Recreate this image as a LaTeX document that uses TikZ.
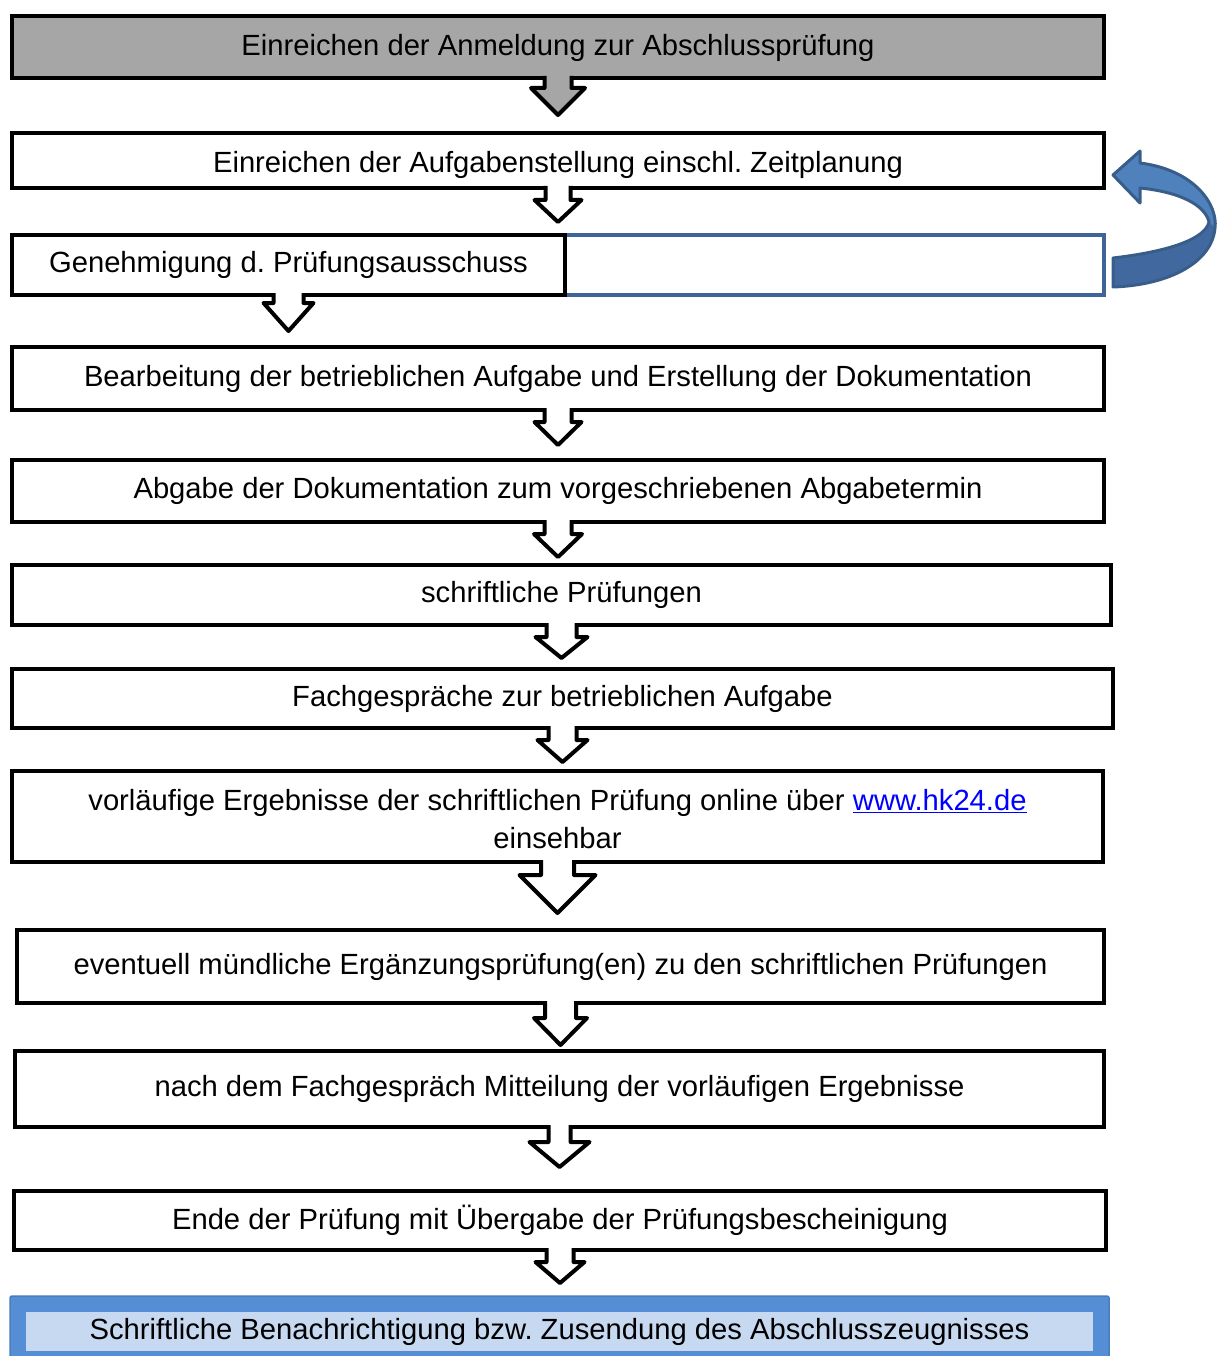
\documentclass[tikz,border=0pt]{standalone}
\usepackage{fontspec}
\setmainfont{Liberation Sans}
\usetikzlibrary{calc}
\definecolor{greybox}{HTML}{A6A6A6}
\definecolor{bluelink}{HTML}{0000FF}
\definecolor{blueline}{HTML}{3F6499}
\definecolor{bluefill}{HTML}{4F81BD}
\definecolor{bluedark}{HTML}{41699F}
\definecolor{blueedge}{HTML}{385D8A}
\definecolor{bandblue}{HTML}{558ED5}
\definecolor{bandedge}{HTML}{4A7EBB}
\definecolor{bandlight}{HTML}{C6D9F1}

\tikzset{
  stage/.style={draw, line width=4pt, fill=white, inner sep=0pt, outer sep=0pt,
    font=\fontsize{29.2}{38}\selectfont\frenchspacing},
  blockarrow/.style={draw, line width=4pt, line join=round},
}

% #2 node, #3 length, #4 shaft length, #5 head half width, #6 shaft half width
\newcommand{\flowarrow}[6][white]{%
  \draw[blockarrow, fill=#1] ($(#2.south)+(-#6,-2)$) -- ($(#2.south)+(-#6,#4)$)
    -- ($(#2.south)+(-#5,#4)$) -- ($(#2.south)+(0,#3)$) -- ($(#2.south)+(#5,#4)$)
    -- ($(#2.south)+(#6,#4)$) -- ($(#2.south)+(#6,-2)$);}
% lower the text inside a box without changing its size
\newcommand{\lowered}[2]{\raisebox{-#1}[\height][\depth]{#2}}

\begin{document}
\begin{tikzpicture}[x=1pt, y=-1pt]
	\useasboundingbox (0,0) rectangle (1219,1356);

	\node[stage, fill=greybox, minimum width=1092pt, minimum height=62pt] (b1) at (558,47) {\lowered{1pt}{Einreichen der Anmeldung zur Abschlussprüfung}};
	\node[stage, minimum width=1092pt, minimum height=55pt] (b2) at (558,160.5) {\lowered{4pt}{Einreichen der Aufgabenstellung einschl. Zeitplanung}};
	\node[stage, draw=blueline, line width=3.5pt, minimum width=539pt, minimum height=60pt] (b3b) at (834.5,265) {};
	\node[stage, minimum width=553pt, minimum height=60pt] (b3a) at (288.5,265) {Genehmigung d. Prüfungsausschuss};
	\node[stage, minimum width=1092pt, minimum height=63pt] (b4) at (558,378.5) {Bearbeitung der betrieblichen Aufgabe und Erstellung der Dokumentation};
	\node[stage, minimum width=1092pt, minimum height=62pt] (b5) at (558,491) {Abgabe der Dokumentation zum vorgeschriebenen Abgabetermin};
	\node[stage, minimum width=1099pt, minimum height=60pt] (b6) at (561.5,595) {schriftliche Prüfungen};
	\node[stage, minimum width=1101pt, minimum height=59pt] (b7) at (562.5,698.5) {Fachgespräche zur betrieblichen Aufgabe};
	\node[stage, minimum width=1091pt, minimum height=91pt] (b8) at (557.5,816.5) {\lowered{5pt}{\begin{tabular}{@{}c@{}}vorläufige Ergebnisse der schriftlichen Prüfung online über \textcolor{bluelink}{\underline{www.hk24.de}}\\einsehbar\end{tabular}}};
	\node[stage, minimum width=1087pt, minimum height=73pt] (b9) at (560.5,966.5) {eventuell mündliche Ergänzungsprüfung(en) zu den schriftlichen Prüfungen};
	\node[stage, minimum width=1089pt, minimum height=76pt] (b10) at (559.5,1089) {nach dem Fachgespräch Mitteilung der vorläufigen Ergebnisse};
	\node[stage, minimum width=1092pt, minimum height=59pt] (b11) at (560,1220.5) {Ende der Prüfung mit Übergabe der Prüfungsbescheinigung};
	\node[stage, draw=bandblue, fill=bandlight, line width=16pt, minimum width=1083pt, minimum height=55pt] (b12) at (559.5,1331.5) {Schriftliche Benachrichtigung bzw. Zusendung des Abschlusszeugnisses};
	\draw[bandedge, line width=1.5pt, rounded corners=2pt] ($(b12.north west)+(-8,-8)$) rectangle ($(b12.south east)+(8,8)$);

	\flowarrow[greybox]{b1}{37}{10}{27}{13.5}
	\flowarrow{b2}{34}{12}{23.5}{12.5}
	\flowarrow{b3a}{36}{8}{25}{15}
	\flowarrow{b4}{35}{12}{23.5}{13.5}
	\flowarrow{b5}{35}{12}{24}{13.5}
	\flowarrow{b6}{33}{12}{26}{15}
	\flowarrow{b7}{34}{12}{25}{14}
	\flowarrow{b8}{51}{13}{38}{16.5}
	\flowarrow{b9}{42}{15}{26.5}{15.5}
	\flowarrow{b10}{40}{15}{30}{11}
	\flowarrow{b11}{33}{12}{24.5}{13.5}

	% curved arrow back from the empty box to the second stage
	\begin{scope}[shift={(b3b.east)}]
		\fill[bluefill] (9,-90) -- (36,-114) -- (36,-102) .. controls (91,-95) and (114,-60) .. (111,-37)
			.. controls (108,-3) and (66,20) .. (9,22) -- (9,-7) .. controls (61,-13) and (101,-25) .. (105,-43)
			.. controls (101,-60) and (76,-73) .. (36,-77) -- (36,-62) -- cycle;
		\fill[bluedark] (111,-37) .. controls (108,-3) and (66,20) .. (9,22) -- (9,-7)
			.. controls (61,-13) and (101,-25) .. (105,-43) -- cycle;
		\draw[blueedge, line width=3pt, line join=round] (9,-90) -- (36,-114) -- (36,-102) .. controls (91,-95) and (114,-60) .. (111,-37)
			.. controls (108,-3) and (66,20) .. (9,22) -- (9,-7) .. controls (61,-13) and (101,-25) .. (105,-43)
			.. controls (101,-60) and (76,-73) .. (36,-77) -- (36,-62) -- cycle;
	\end{scope}
\end{tikzpicture}
\end{document}
